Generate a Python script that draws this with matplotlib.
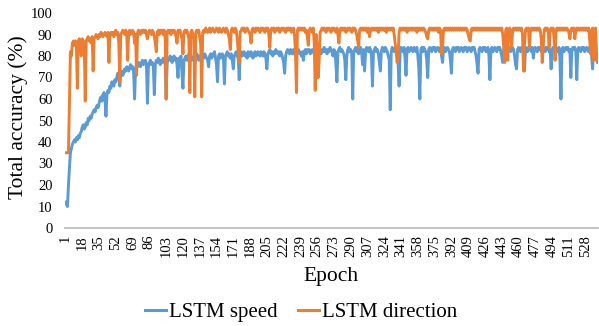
import matplotlib
matplotlib.use("Agg")
import matplotlib.pyplot as plt
import numpy as np

plt.rcParams['font.family'] = ['Liberation Serif', 'DejaVu Serif']

speed = [
    12, 11, 10, 20, 28, 35, 37, 39, 40, 41, 40, 42, 41, 43, 42, 44, 45, 47, 48, 46,
    47, 49, 48, 51, 50, 52, 51, 53, 54, 55, 54, 56, 57, 56, 58, 60, 61, 59, 62, 63,
    60, 52, 62, 64, 63, 66, 65, 68, 67, 66, 69, 68, 70, 72, 71, 66, 72, 73, 71, 72,
    74, 73, 75, 74, 73, 75, 76, 74, 75, 73, 60, 74, 76, 75, 77, 76, 75, 77, 78, 76,
    77, 78, 76, 58, 75, 77, 78, 76, 77, 75, 62, 76, 78, 77, 79, 78, 76, 78, 77, 79,
    78, 76, 60, 77, 79, 78, 80, 79, 77, 79, 80, 78, 79, 76, 70, 79, 78, 80, 72, 65,
    78, 79, 80, 78, 79, 81, 79, 80, 78, 79, 80, 77, 79, 81, 80, 78, 80, 79, 81, 80,
    79, 81, 80, 79, 78, 75, 80, 81, 79, 81, 80, 82, 79, 76, 68, 80, 81, 79, 80, 81,
    79, 67, 80, 81, 82, 80, 81, 79, 81, 78, 74, 80, 81, 82, 80, 79, 69, 81, 82, 80,
    81, 82, 80, 81, 79, 82, 81, 80, 82, 81, 79, 81, 82, 80, 81, 82, 81, 80, 82, 81,
    80, 82, 81, 79, 74, 81, 82, 83, 81, 82, 80, 82, 81, 83, 82, 81, 82, 80, 82, 81,
    79, 77, 72, 80, 82, 83, 82, 81, 83, 82, 81, 83, 82, 80, 82, 81, 83, 82, 81, 80,
    82, 78, 82, 83, 81, 83, 82, 83, 81, 82, 83, 82, 81, 83, 82, 70, 82, 83, 82, 81,
    83, 82, 84, 82, 83, 81, 83, 82, 84, 83, 82, 80, 83, 82, 76, 68, 82, 83, 84, 82,
    83, 82, 81, 78, 69, 80, 83, 84, 82, 83, 81, 60, 82, 83, 84, 82, 83, 81, 83, 84,
    82, 76, 83, 73, 82, 84, 83, 82, 84, 83, 80, 66, 82, 83, 84, 82, 83, 81, 77, 73,
    82, 84, 83, 82, 84, 83, 82, 80, 78, 55, 82, 84, 83, 82, 84, 83, 82, 76, 66, 82,
    84, 83, 82, 84, 79, 71, 83, 84, 82, 83, 84, 83, 82, 84, 83, 82, 84, 80, 74, 60,
    83, 84, 82, 84, 83, 82, 78, 70, 83, 84, 83, 82, 84, 83, 84, 82, 83, 84, 83, 82,
    84, 80, 77, 83, 84, 82, 83, 84, 83, 82, 78, 72, 83, 84, 83, 82, 84, 83, 84, 82,
    83, 84, 83, 82, 84, 83, 84, 82, 83, 84, 83, 82, 84, 83, 84, 82, 80, 76, 72, 83,
    84, 83, 82, 84, 83, 84, 82, 83, 84, 80, 69, 83, 84, 82, 83, 84, 83, 82, 84, 83,
    84, 82, 80, 77, 83, 84, 83, 82, 84, 83, 84, 82, 83, 84, 83, 80, 76, 74, 83, 84,
    83, 82, 84, 83, 84, 73, 83, 84, 82, 83, 84, 83, 82, 84, 79, 83, 84, 83, 82, 84,
    83, 84, 82, 83, 84, 83, 82, 84, 83, 84, 82, 83, 74, 83, 84, 83, 82, 84, 83, 82,
    84, 78, 60, 83, 84, 82, 83, 84, 83, 84, 82, 83, 70, 83, 84, 83, 84, 82, 69, 83,
    84, 83, 82, 84, 83, 84, 82, 83, 84, 83, 82, 84, 83, 80, 74, 83, 84, 82, 78, 77,
]

direction = [
    35, 35, 35, 35, 58, 82, 80, 86, 87, 85, 87, 86, 65, 87, 88, 86, 80, 88, 87, 86,
    59, 87, 88, 89, 87, 88, 86, 89, 73, 88, 89, 90, 89, 88, 90, 89, 91, 90, 89, 90,
    91, 90, 89, 91, 77, 90, 91, 90, 91, 89, 91, 92, 90, 91, 86, 68, 90, 91, 92, 91,
    90, 92, 91, 78, 91, 92, 90, 91, 92, 91, 86, 90, 71, 91, 92, 91, 90, 92, 91, 92,
    91, 92, 90, 88, 91, 92, 91, 90, 92, 91, 89, 86, 82, 91, 92, 90, 92, 91, 92, 90,
    92, 88, 60, 91, 92, 91, 92, 90, 92, 91, 92, 91, 89, 86, 92, 91, 92, 90, 88, 81,
    91, 92, 91, 92, 90, 88, 63, 91, 92, 90, 88, 61, 91, 92, 91, 92, 89, 85, 61, 91,
    92, 91, 93, 92, 91, 92, 93, 91, 92, 93, 92, 91, 92, 93, 92, 91, 93, 92, 91, 92,
    93, 92, 91, 93, 92, 90, 88, 83, 92, 93, 92, 91, 93, 92, 88, 82, 77, 91, 92, 93,
    92, 93, 91, 92, 93, 92, 91, 90, 86, 92, 93, 92, 91, 93, 92, 93, 92, 91, 93, 92,
    93, 92, 91, 93, 92, 93, 90, 84, 92, 93, 92, 93, 91, 92, 93, 92, 93, 91, 92, 93,
    92, 93, 92, 91, 93, 92, 93, 92, 93, 91, 92, 93, 90, 82, 63, 92, 93, 92, 93, 92,
    93, 92, 93, 91, 92, 89, 85, 92, 93, 92, 91, 93, 86, 64, 90, 84, 70, 78, 91, 92,
    93, 92, 93, 92, 91, 93, 92, 93, 92, 91, 93, 92, 93, 92, 91, 93, 90, 86, 92, 93,
    92, 93, 92, 93, 91, 92, 93, 92, 93, 92, 91, 93, 92, 93, 92, 90, 87, 84, 92, 93,
    92, 93, 92, 93, 92, 93, 91, 93, 89, 92, 93, 92, 93, 92, 93, 92, 93, 91, 93, 92,
    93, 92, 93, 92, 93, 91, 93, 92, 93, 92, 93, 92, 93, 90, 86, 82, 77, 80, 91, 93,
    92, 93, 92, 93, 92, 93, 91, 93, 92, 93, 92, 93, 92, 93, 92, 93, 91, 93, 92, 93,
    92, 93, 92, 93, 92, 91, 89, 88, 92, 93, 92, 93, 92, 93, 92, 93, 92, 93, 91, 93,
    92, 81, 84, 92, 93, 92, 93, 92, 93, 92, 93, 92, 93, 92, 93, 92, 93, 92, 93, 92,
    93, 92, 93, 92, 93, 92, 93, 92, 90, 88, 87, 92, 93, 92, 93, 92, 93, 92, 93, 92,
    93, 92, 93, 92, 93, 92, 93, 92, 93, 92, 93, 92, 93, 92, 93, 92, 93, 92, 93, 92,
    93, 92, 93, 90, 84, 77, 92, 93, 78, 92, 93, 92, 84, 92, 93, 92, 93, 92, 93, 92,
    93, 92, 93, 90, 73, 85, 92, 93, 92, 93, 84, 92, 93, 92, 93, 92, 93, 92, 93, 92,
    93, 92, 88, 77, 84, 92, 93, 92, 93, 92, 84, 92, 93, 92, 93, 88, 78, 92, 93, 92,
    93, 92, 93, 92, 93, 92, 93, 92, 93, 92, 91, 88, 92, 93, 92, 93, 88, 92, 93, 92,
    93, 92, 93, 92, 93, 92, 93, 92, 93, 92, 93, 88, 81, 92, 93, 78, 92, 93, 82, 78,
]

epochs = list(range(1, len(speed) + 1))
xtick_labels = list(range(1, 529, 17))
ytick_labels = list(range(0, 101, 10))

fig = plt.figure(figsize=(5.99, 3.26), dpi=100)
ax = fig.add_axes([65 / 599, 1 - 228 / 326, (598 - 65) / 599, (228 - 13) / 326])

ax.plot(epochs, speed, color='#5B9BD5', lw=2.1, solid_joinstyle='round')
ax.plot(epochs, direction, color='#ED7D31', lw=2.1, solid_joinstyle='round')

ax.set_xlim(0.5, len(epochs) + 0.5)
ax.set_ylim(0, 100)
ax.set_yticks(ytick_labels)
ax.set_yticklabels([str(v) for v in ytick_labels], fontsize=10.5)
ax.set_xticks(xtick_labels)
ax.set_xticklabels([str(v) for v in xtick_labels], rotation=90, fontsize=10.5)
ax.tick_params(axis='both', length=0)
ax.tick_params(axis='y', pad=9)
ax.tick_params(axis='x', pad=5)

for s in ['top', 'right', 'left']:
    ax.spines[s].set_visible(False)
ax.spines['bottom'].set_color('#BFBFBF')
ax.spines['bottom'].set_linewidth(1.3)

fig.text(18 / 599, 0.64, 'Total accuracy (%)', rotation=90, ha='center', va='center', fontsize=15.5)
fig.text(331 / 599, 1 - 281 / 326, 'Epoch', ha='center', va='baseline', fontsize=15.5)

from matplotlib.lines import Line2D
handles = [Line2D([], [], color='#5B9BD5', lw=2.2), Line2D([], [], color='#ED7D31', lw=2.2)]
fig.legend(handles, ['LSTM speed', 'LSTM direction'], loc='center', bbox_to_anchor=(0.503, 1 - 312 / 326),
           ncol=2, frameon=False, fontsize=15, handlelength=1.0, handletextpad=0.15, columnspacing=1.0)

fig.savefig('out.png', dpi=100)
